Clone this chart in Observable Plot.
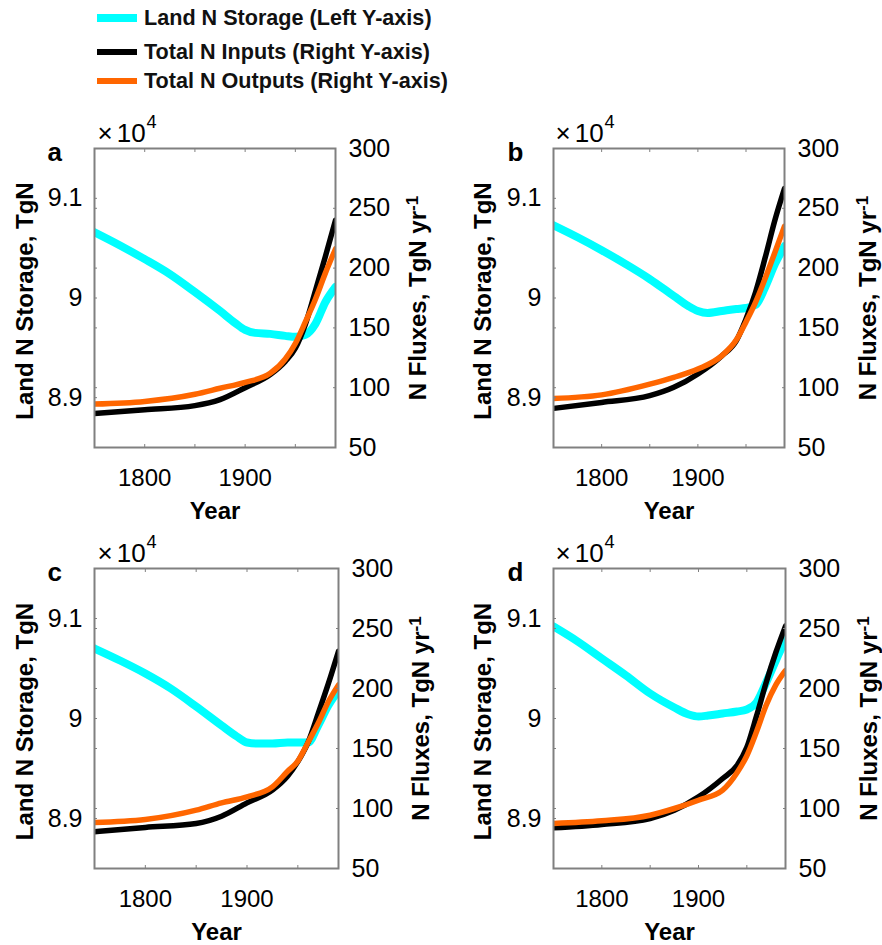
<!DOCTYPE html>
<html><head><meta charset="utf-8">
<script src="https://cdn.jsdelivr.net/npm/d3@7"></script>
<script src="https://cdn.jsdelivr.net/npm/@observablehq/plot@0.6"></script>
<style>
body{margin:0;background:#fff;font-family:"Liberation Sans",Arial,sans-serif;}
#wrap{position:relative;width:882px;height:945px;overflow:hidden;background:#fff;}
.panel{position:absolute;}
.panel svg{overflow:visible;}
.legrow{position:absolute;left:97px;height:24px;display:flex;align-items:center;font-weight:bold;font-size:21.6px;color:#111;white-space:nowrap;}
.sw{display:inline-block;width:40px;margin-right:7px;}
</style></head>
<body><div id="wrap"></div>
<script>
// ---------------- data ----------------
const fluxYears = [1750, 1800, 1850, 1875, 1900, 1925, 1940, 1950, 1960, 1970, 1980, 1990];
const storageYears = [1750, 1775, 1800, 1825, 1850, 1875, 1890, 1900, 1910, 1925, 1940, 1950, 1960, 1970, 1980, 1990];

// Total N inputs (TgN/yr, right axis)
const inputsA = [78.5, 81.6, 85, 90, 100, 111, 122, 133, 153, 181, 210, 240];
const inputsB = [82.7, 87.7, 93.3, 100.3, 111.5, 126.8, 139.4, 157.5, 180, 209, 240, 266.5];
const inputsC = [80.6, 84.2, 87.5, 93.6, 104.7, 115.3, 127, 139, 155, 179, 204, 231];
const inputsD = [83.9, 86.7, 91.7, 98.6, 109.7, 125, 136, 151, 177, 205, 230, 252];

// Total N outputs (TgN/yr, right axis)
const outputsA = [86.3, 88.5, 94.5, 99.5, 104.5, 112, 124, 137, 155, 174, 196, 216];
const outputsB = [91, 94, 103, 108.7, 115.6, 126.8, 140, 155, 171.5, 191.5, 213, 235];
const outputsC = [88.3, 90.8, 98.6, 104.7, 109.7, 118, 131, 139.5, 155, 171, 189, 203];
const outputsD = [87.5, 89.7, 94.4, 100, 106.9, 115.3, 130, 144, 164, 186, 203, 215];

// Land N storage (x10^4 TgN, left axis)
const storageA = [9.066, 9.053, 9.039, 9.024, 9.006, 8.987, 8.975, 8.968, 8.965, 8.964, 8.962, 8.961, 8.963, 8.974, 8.996, 9.011];
const storageB = [9.073, 9.061, 9.048, 9.034, 9.019, 9.002, 8.992, 8.987, 8.985, 8.987, 8.989, 8.990, 8.993, 9.011, 9.034, 9.052];
const storageC = [9.070, 9.058, 9.045, 9.030, 9.012, 8.993, 8.982, 8.976, 8.975, 8.975, 8.976, 8.976, 8.976, 8.993, 9.013, 9.028];
const storageD = [9.092, 9.077, 9.060, 9.043, 9.025, 9.011, 9.004, 9.002, 9.003, 9.005, 9.007, 9.009, 9.016, 9.036, 9.058, 9.079];

const panelLabels = ["a", "b", "c", "d"];
const seriesNames = ["Land N Storage (Left Y-axis)", "Total N Inputs (Right Y-axis)", "Total N Outputs (Right Y-axis)"];
const yearDomain = [1750, 1990];
const fluxDomain = [50, 300];
const storageDomain = [8.85, 9.15];
const yearTickLabels = [1800, 1900];
const yearMinorTicks = [1800, 1850, 1900, 1950];
const fluxTickLabels = [50, 100, 150, 200, 250, 300];
const fluxMinorTicks = [100, 150, 200, 250];
const storageTickLabels = [8.9, 9.0, 9.1];
const leftTitle = "Land N Storage, TgN";
const rightTitle = "N Fluxes, TgN yr^-1";
const xTitle = "Year";
const multiplier = "×10^4";

// ---------------- styles / layout ----------------
const CYAN = "#00FFFF", BLACK = "#000000", ORANGE = "#FF6600", GRAY = "#808080";
const FONT = "Liberation Sans, Arial, Helvetica, sans-serif";
const layout = [
  {left: 0,   top: 100, width: 440, height: 430, mL: 94,  mR: 105, mT: 48, mB: 83, lx: -47, ltx: -69, rtx: 83, mx: 3},
  {left: 440, top: 100, width: 442, height: 430, mL: 113, mR: 98,  mT: 48, mB: 83, lx: -46, ltx: -70, rtx: 84, mx: 2},
  {left: 0,   top: 520, width: 440, height: 425, mL: 94,  mR: 102, mT: 48, mB: 77, lx: -47, ltx: -69, rtx: 83, mx: 3},
  {left: 440, top: 520, width: 442, height: 425, mL: 113, mR: 97,  mT: 48, mB: 77, lx: -46, ltx: -70, rtx: 84, mx: 2}
];
const legendRows = [{top: 6, color: CYAN, h: 8}, {top: 40, color: BLACK, h: 5.5}, {top: 69, color: ORANGE, h: 5.5}];

const toFlux = s => fluxDomain[0] + (s - storageDomain[0]) / (storageDomain[1] - storageDomain[0]) * (fluxDomain[1] - fluxDomain[0]);
const fromFlux = f => storageDomain[0] + (f - fluxDomain[0]) / (fluxDomain[1] - fluxDomain[0]) * (storageDomain[1] - storageDomain[0]);

const wrap = document.getElementById("wrap");

// legend
seriesNames.forEach((name, i) => {
  const r = legendRows[i];
  const row = document.createElement("div");
  row.className = "legrow";
  row.style.top = r.top + "px";
  const sw = document.createElement("span");
  sw.className = "sw";
  sw.style.height = r.h + "px";
  sw.style.background = r.color;
  const tx = document.createElement("span");
  tx.textContent = name;
  row.appendChild(sw); row.appendChild(tx);
  wrap.appendChild(row);
});

// turn "base^sup" text into tspans (TeX-like superscript)
function supify(svg) {
  d3.select(svg).selectAll("text").each(function () {
    const t = this.textContent;
    const i = t.indexOf("^");
    if (i < 0) return;
    const el = d3.select(this);
    let base = t.slice(0, i);
    const sup = t.slice(i + 1);
    el.text(null);
    if (base.startsWith("×")) {
      el.append("tspan").text("×");
      el.append("tspan").attr("dx", 4).text(base.slice(1));
      el.append("tspan").attr("dy", "-0.72em").attr("dx", 1).style("font-size", "70%").text(sup);
    } else {
      el.append("tspan").text(base);
      el.append("tspan").attr("dy", "-0.5em").style("font-size", "72%").text(sup);
    }
  });
}

const inputsAll = [inputsA, inputsB, inputsC, inputsD];
const outputsAll = [outputsA, outputsB, outputsC, outputsD];
const storageAll = [storageA, storageB, storageC, storageD];

panelLabels.forEach((label, k) => {
  const L = layout[k];
  const storRows = storageYears.map((year, i) => ({year, s: storageAll[k][i]}));
  const inRows = fluxYears.map((year, i) => ({year, v: inputsAll[k][i]}));
  const outRows = fluxYears.map((year, i) => ({year, v: outputsAll[k][i]}));
  const tickOpts = {tickFormat: () => "", stroke: GRAY, tickSize: 3, label: null};
  const chart = Plot.plot({
    width: L.width, height: L.height,
    marginLeft: L.mL, marginRight: L.mR, marginTop: L.mT, marginBottom: L.mB,
    x: {domain: yearDomain},
    y: {domain: fluxDomain},
    style: {fontFamily: FONT, background: "transparent", color: "#000"},
    marks: [
      Plot.line(storRows, {x: "year", y: d => toFlux(d.s), stroke: CYAN, strokeWidth: 8, curve: "monotone-x", clip: true}),
      Plot.line(inRows, {x: "year", y: "v", stroke: BLACK, strokeWidth: 5.5, curve: "monotone-x", clip: true}),
      Plot.line(outRows, {x: "year", y: "v", stroke: ORANGE, strokeWidth: 5.5, curve: "monotone-x", clip: true}),
      Plot.frame({stroke: GRAY, strokeWidth: 2}),
      Plot.axisX(yearMinorTicks, {anchor: "bottom", dy: -3, ...tickOpts}),
      Plot.axisX(yearMinorTicks, {anchor: "top", dy: 3, ...tickOpts}),
      Plot.axisY(fluxMinorTicks, {anchor: "left", dx: 3, ...tickOpts}),
      Plot.axisY(fluxMinorTicks, {anchor: "right", dx: -3, ...tickOpts}),
      Plot.axisY(storageTickLabels.map(toFlux), {anchor: "left", dx: 3, ...tickOpts}),
      Plot.axisX(yearTickLabels, {anchor: "bottom", tickSize: 0, tickPadding: 21, fontSize: 24, label: null, tickFormat: d => String(d)}),
      Plot.axisY(fluxTickLabels, {anchor: "right", tickSize: 0, tickPadding: 13, fontSize: 25, label: null, tickFormat: d => String(d)}),
      Plot.axisY(storageTickLabels.map(toFlux), {anchor: "left", tickSize: 0, tickPadding: 12, fontSize: 25, label: null,
        tickFormat: d => String(+fromFlux(d).toFixed(1))}),
      Plot.text([label], {frameAnchor: "top-left", text: d => d, dx: L.lx, dy: 12, textAnchor: "start", lineAnchor: "bottom", fontSize: 26, fontWeight: "bold"}),
      Plot.text([multiplier], {frameAnchor: "top-left", text: d => d, dx: L.mx, dy: -7, textAnchor: "start", lineAnchor: "bottom", fontSize: 26}),
      Plot.text([xTitle], {frameAnchor: "bottom", text: d => d, dy: 71, lineAnchor: "bottom", fontSize: 24, fontWeight: "bold"}),
      Plot.text([leftTitle], {frameAnchor: "left", text: d => d, dx: L.ltx, dy: 3, rotate: -90, textAnchor: "middle", lineAnchor: "middle", fontSize: 24, fontWeight: "bold"}),
      Plot.text([rightTitle], {frameAnchor: "right", text: d => d, dx: L.rtx, rotate: -90, textAnchor: "middle", lineAnchor: "middle", fontSize: 24, fontWeight: "bold"})
    ]
  });
  supify(chart);
  const holder = document.createElement("div");
  holder.className = "panel";
  holder.style.left = L.left + "px";
  holder.style.top = L.top + "px";
  holder.appendChild(chart);
  wrap.appendChild(holder);
});
</script>
</body></html>
